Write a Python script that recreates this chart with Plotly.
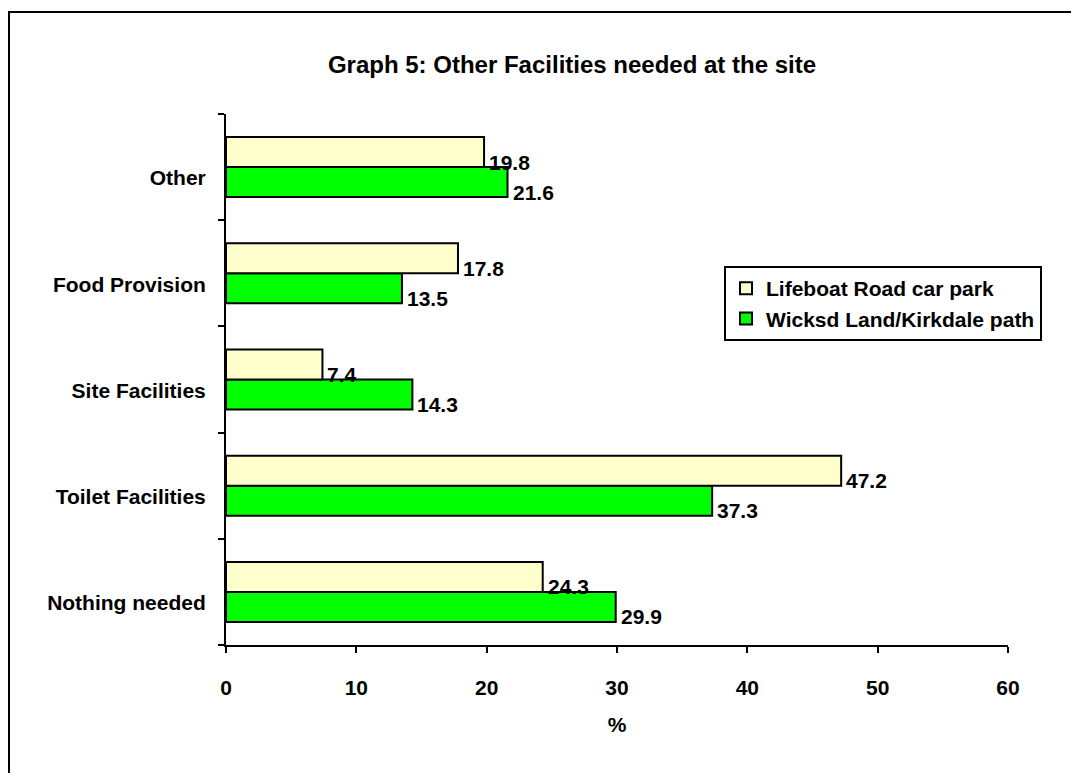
import plotly.graph_objects as go

categories = ["Nothing needed", "Toilet Facilities", "Site Facilities", "Food Provision", "Other"]
lifeboat = [24.3, 47.2, 7.4, 17.8, 19.8]
wicksd = [29.9, 37.3, 14.3, 13.5, 21.6]
series_names = ["Lifeboat Road car park", "Wicksd Land/Kirkdale path"]
x_ticks = [0, 10, 20, 30, 40, 50, 60]

FONT = "Liberation Sans, Arial, sans-serif"
LIGHT = "#FFFFCC"
GREEN = "#00FF00"
FS = 21

# page has an 8px body margin; figure coordinates = page coordinates - 8
W, H = 1071, 765
PL, PR, PT, PB = 218, 1000, 106, 637  # plot area in figure px

fig = go.Figure()
fig.add_trace(go.Bar(
    y=categories, x=wicksd, name=series_names[1], orientation="h",
    marker=dict(color=GREEN, line=dict(color="black", width=2)),
))
fig.add_trace(go.Bar(
    y=categories, x=lifeboat, name=series_names[0], orientation="h",
    marker=dict(color=LIGHT, line=dict(color="black", width=2)),
))

lab_font = dict(family=FONT, size=FS, color="black", weight="bold")
annotations = []
for cat, v in zip(categories, lifeboat):
    annotations.append(dict(x=v, y=cat, xref="x", yref="y", text=f"{v:.1f}",
                            showarrow=False, xanchor="left", yanchor="middle",
                            xshift=3, yshift=5, font=lab_font))
for cat, v in zip(categories, wicksd):
    annotations.append(dict(x=v, y=cat, xref="x", yref="y", text=f"{v:.1f}",
                            showarrow=False, xanchor="left", yanchor="middle",
                            xshift=3, yshift=-25, font=lab_font))

pw, ph = PR - PL, PB - PT
fig.update_layout(
    width=W, height=H,
    margin=dict(l=PL, r=W - PR, t=PT, b=H - PB),
    paper_bgcolor="white", plot_bgcolor="white",
    barmode="group", bargap=0.435, bargroupgap=0,
    font=dict(family=FONT, size=FS, color="black", weight="bold"),
    title=dict(text="Graph 5: Other Facilities needed at the site",
               x=(572 - 8) / W, xanchor="center", y=1 - (65 - 8) / H, yanchor="middle",
               font=dict(family=FONT, size=24, color="black", weight="bold")),
    legend=dict(x=(716 - PL) / pw, y=(PB - 258) / ph, xanchor="left", yanchor="top",
                traceorder="reversed", bgcolor="white", bordercolor="black", borderwidth=2,
                font=dict(family=FONT, size=FS, color="black", weight="bold"),
                itemwidth=30, tracegroupgap=0),
    showlegend=True,
    annotations=annotations,
    shapes=[dict(type="rect", xref="paper", yref="paper",
                 x0=(1 - PL) / pw, x1=(W + 20 - PL) / pw,
                 y0=(PB - (H + 20)) / ph, y1=(PB - 4) / ph,
                 line=dict(color="black", width=2), fillcolor="rgba(0,0,0,0)", layer="below")],
)

fig.update_xaxes(
    range=[0, 60], tickvals=x_ticks, ticktext=[str(t) for t in x_ticks],
    showline=True, linecolor="black", linewidth=2, mirror=False,
    ticks="outside", ticklen=6, tickwidth=2, tickcolor="black",
    showgrid=False, zeroline=False,
    ticklabelstandoff=17,
    tickfont=lab_font,
    title=dict(text="%", standoff=19, font=lab_font),
)
fig.update_yaxes(
    categoryorder="array", categoryarray=categories,
    showline=True, linecolor="black", linewidth=2,
    ticks="outside", ticklen=6, tickwidth=2, tickcolor="black",
    tickson="boundaries", showgrid=False, zeroline=False,
    ticklabelstandoff=14, ticklabelshift=11,
    tickfont=lab_font,
)

fig.write_html("out.html")
